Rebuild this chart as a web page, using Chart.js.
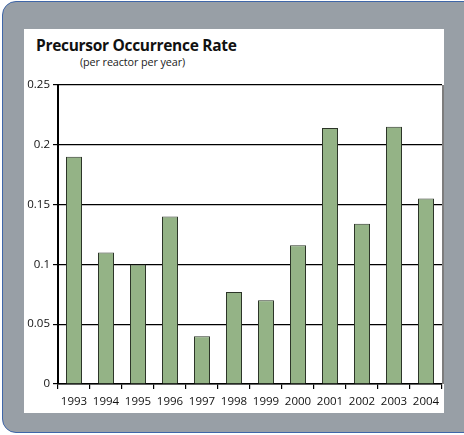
<!DOCTYPE html>
<html>
<head>
<meta charset="utf-8">
<script src="https://cdn.jsdelivr.net/npm/chart.js@4"></script>
<style>
  body { margin: 0; background: #fff; font-family: "Open Sans", sans-serif; }
  #wrap { position: relative; width: 464px; height: 435px; overflow: hidden; }
  #outer { position: absolute; left: 2px; top: 1px; width: 480px; height: 430px;
           background: #989fa6; border: 1.5px solid #3f66a8; border-radius: 14px; }
  #panel { position: absolute; left: 24px; top: 29px; width: 420px; height: 384px; background: #fff; }
  #title { position: absolute; left: 36px; top: 34px; font-weight: bold; font-size: 15.5px; color: #111; letter-spacing: -0.3px; }
  #sub { position: absolute; left: 80px; top: 54px; font-size: 10.8px; color: #222; letter-spacing: -0.1px; }
  canvas { position: absolute; left: 0; top: 0; }
</style>
</head>
<body>
<div id="wrap">
  <div id="outer"></div>
  <div id="panel"></div>
  <div id="title">Precursor Occurrence Rate</div>
  <div id="sub">(per reactor per year)</div>
  <canvas id="chart" width="464" height="435"></canvas>
</div>
<script>
const years = ['1993', '1994', '1995', '1996', '1997', '1998', '1999', '2000', '2001', '2002', '2003', '2004'];
const rates = [0.19, 0.11, 0.10, 0.14, 0.04, 0.077, 0.07, 0.116, 0.214, 0.134, 0.215, 0.155];
const yTicks = [0, 0.05, 0.1, 0.15, 0.2, 0.25];

// gray line down the right side of the plot
const rightEdge = {
  id: 'rightEdge',
  afterDraw(chart) {
    const { ctx, chartArea: a } = chart;
    ctx.save();
    ctx.strokeStyle = '#7d7d7d';
    ctx.lineWidth = 2;
    ctx.beginPath();
    ctx.moveTo(a.right + 1, a.top);
    ctx.lineTo(a.right + 1, a.bottom);
    ctx.stroke();
    ctx.restore();
  }
};

const ctx = document.getElementById('chart').getContext('2d');
new Chart(ctx, {
  type: 'bar',
  data: {
    labels: years,
    datasets: [{
      data: rates,
      backgroundColor: '#94b386',
      borderColor: '#2c3528',
      borderWidth: 1,
      barPercentage: 0.5,
      categoryPercentage: 1
    }]
  },
  options: {
    responsive: false,
    animation: false,
    layout: { padding: { left: 24, right: 22, top: 85, bottom: 21 } },
    plugins: { legend: { display: false }, tooltip: { enabled: false } },
    scales: {
      x: {
        offset: true,
        afterFit: s => { s.height = 30; },
        grid: { offset: true, drawOnChartArea: false, drawTicks: true, tickLength: 5, color: '#000', lineWidth: 1.2 },
        border: { color: '#000', width: 1.5 },
        ticks: { color: '#111', padding: 6, maxRotation: 0, minRotation: 0, autoSkip: false,
                 font: { family: 'Open Sans', size: 11.5 } }
      },
      y: {
        min: 0,
        max: 0.25,
        afterFit: s => { s.width = 34; },
        afterBuildTicks: s => { s.ticks = yTicks.map(v => ({ value: v })); },
        grid: { color: '#000', lineWidth: 1.2, tickLength: 5 },
        border: { color: '#000', width: 2 },
        ticks: { color: '#111', padding: 3, font: { family: 'Open Sans', size: 11.5 },
                 callback: v => String(v) }
      }
    }
  },
  plugins: [rightEdge]
});
</script>
</body>
</html>
